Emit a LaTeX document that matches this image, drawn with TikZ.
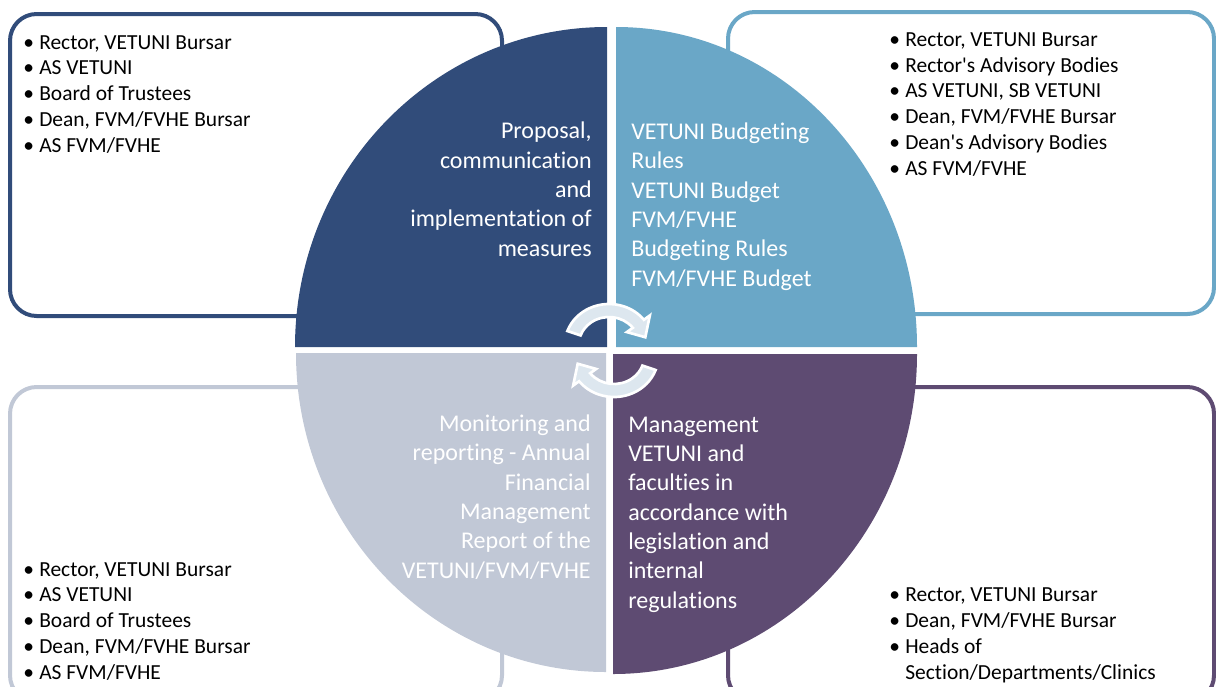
\documentclass[tikz,border=0pt]{standalone}
\usepackage{fontspec}
\setmainfont{Carlito}[Ligatures={TeXOff,CommonOff}]
\definecolor{qa}{RGB}{49,76,122}
\definecolor{qb}{RGB}{106,167,199}
\definecolor{qc}{RGB}{94,75,114}
\definecolor{qd}{RGB}{193,200,214}
\definecolor{arr}{RGB}{221,231,239}
\newcommand\bl{\makebox[12pt][l]{•}}
\newcommand\ind{\hspace*{12pt}}
\begin{document}
\begin{tikzpicture}[x=0.75pt,y=-0.75pt,
  box/.style={line width=3pt, fill=white, rounded corners=20pt},
  qtext/.style={font=\fontsize{18}{22}\selectfont, text=white, inner sep=0pt},
  ltext/.style={font=\fontsize{16.1}{19.3}\selectfont, text=black, inner sep=0pt, align=left},
  cyc/.style={fill=arr, draw=white, line width=2pt}]
\useasboundingbox (0,0) rectangle (1216,686);
\clip (0,0) rectangle (1216,686);
% boxes
\draw[box, draw=qa] (10,14) rectangle (502,316);
\draw[box, draw=qb] (728,12) rectangle (1214,314);
\draw[box, draw=qd] (10,387) rectangle (502,702);
\draw[box, draw=qc] (728,387) rectangle (1214,702);
% quadrants
\fill[qa] (607,347) -- (295,347) arc[start angle=180,end angle=270,x radius=312,y radius=320] -- cycle;
\fill[qb] (616,347) -- (616,27) arc[start angle=270,end angle=360,x radius=301,y radius=320] -- cycle;
\fill[qc] (613,354) -- (917,354) arc[start angle=0,end angle=90,x radius=304,y radius=320] -- cycle;
\fill[qd] (606,353) -- (606,672) arc[start angle=90,end angle=180,x radius=310,y radius=319] -- cycle;
% quadrant texts (base anchor = baseline of last line)
\node[qtext, align=right, anchor=base east] (p1) at (592,256) {Proposal,\\communication\\and\\implementation of\\measures};
\node[qtext, align=left, anchor=base west] (p2) at (631,286) {VETUNI Budgeting\\Rules\\VETUNI Budget\\FVM/FVHE\\Budgeting Rules\\FVM/FVHE Budget};
\node[qtext, align=right, anchor=base east] (p3) at (591,578) {Monitoring and\\reporting - Annual\\Financial\\Management\\Report of the\\VETUNI/FVM/FVHE};
\node[qtext, align=left, anchor=base west] (p4) at (628,608) {Management\\VETUNI and\\faculties in\\accordance with\\legislation and\\internal\\regulations};
% lists
\node[ltext, anchor=base west] (l1) at (23,152) {\bl Rector, VETUNI Bursar\\\bl AS VETUNI\\\bl Board of Trustees\\\bl Dean, FVM/FVHE Bursar\\\bl AS FVM/FVHE};
\node[ltext, anchor=base west] (l2) at (889,175) {\bl Rector, VETUNI Bursar\\\bl Rector's Advisory Bodies\\\bl AS VETUNI, SB VETUNI\\\bl Dean, FVM/FVHE Bursar\\\bl Dean's Advisory Bodies\\\bl AS FVM/FVHE};
\node[ltext, anchor=base west] (l3) at (23,679) {\bl Rector, VETUNI Bursar\\\bl AS VETUNI\\\bl Board of Trustees\\\bl Dean, FVM/FVHE Bursar\\\bl AS FVM/FVHE};
\node[ltext, anchor=base west] (l4) at (889,679) {\bl Rector, VETUNI Bursar\\\bl Dean, FVM/FVHE Bursar\\\bl Heads of\\\ind Section/Departments/Clinics};
% cycle arrows
\begin{scope}[shift={(609,345)}, xscale=1.08]
\filldraw[cyc] (200:41) arc[start angle=200,end angle=322,radius=41] -- (322:48) -- (347:34.5) -- (322:21) -- (322:28) arc[start angle=322,end angle=200,radius=28] -- cycle;
\end{scope}
\begin{scope}[shift={(614,356)}, xscale=1.08, rotate=180]
\filldraw[cyc] (200:41) arc[start angle=200,end angle=322,radius=41] -- (322:48) -- (347:34.5) -- (322:21) -- (322:28) arc[start angle=322,end angle=200,radius=28] -- cycle;
\end{scope}
\end{tikzpicture}
\end{document}
